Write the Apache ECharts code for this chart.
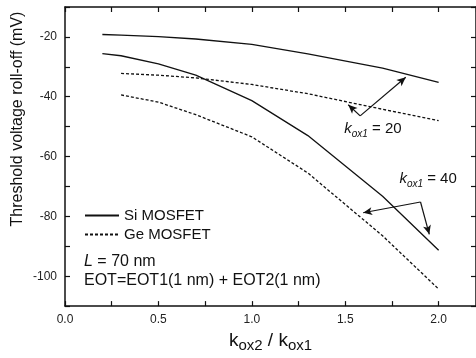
<!DOCTYPE html>
<html><head><meta charset="utf-8">
<script src="https://cdn.jsdelivr.net/npm/echarts@6/dist/echarts.min.js"></script>
<style>html,body{margin:0;padding:0;background:#fff}#c{width:476px;height:358px}</style>
</head><body><div id="c"></div>
<script>
// Data
var siK20X = [0.2, 0.3, 0.5, 0.7, 1.0, 1.3, 1.7, 2.0];
var siK20Y = [-19.2, -19.4, -19.9, -20.7, -22.5, -25.7, -30.4, -35.2];
var siK40X = [0.2, 0.3, 0.5, 0.7, 1.0, 1.3, 1.7, 2.0];
var siK40Y = [-25.6, -26.3, -29.0, -32.8, -41.3, -53.0, -73.3, -91.3];
var geK20X = [0.3, 0.5, 0.7, 1.0, 1.3, 1.7, 2.0];
var geK20Y = [-32.2, -32.8, -33.7, -35.9, -39.0, -44.2, -48.0];
var geK40X = [0.3, 0.5, 0.7, 1.0, 1.3, 1.7, 2.0];
var geK40Y = [-39.4, -41.8, -46.0, -53.4, -65.5, -86.5, -104.3];
var legendNames = ['Si MOSFET', 'Ge MOSFET'];
var xTickLabels = ['0.0', '0.5', '1.0', '1.5', '2.0'];
var yTickLabels = ['-20', '-40', '-60', '-80', '-100'];
// annotation arrows in data coordinates: [vertex, head]
var arrowK20 = [[[1.58, -46.4], [1.824, -33.5]], [[1.58, -46.4], [1.516, -42.7]]];
var arrowK40 = [[[1.903, -75.2], [1.596, -78.8]], [[1.903, -75.2], [1.95, -86.0]]];
var labelK20 = [1.495, -51.3];
var labelK40 = [1.79, -67.8];

function pairs(xs, ys) { return xs.map(function (x, i) { return [x, ys[i]]; }); }

var FONT = 'Liberation Sans, Arial, sans-serif';
var axisCommon = {
  axisLine: { show: true, onZero: false, lineStyle: { color: '#111', width: 1.5 } },
  axisTick: { show: true, inside: true, length: 5, lineStyle: { color: '#111', width: 1.2 } },
  splitLine: { show: false }
};
function xFmt(v) { var s = v.toFixed(1); return (Math.abs(v / 0.5 - Math.round(v / 0.5)) < 1e-6 && xTickLabels.indexOf(s) >= 0) ? s : ''; }
function yFmt(v) { var s = String(Math.round(v)); return yTickLabels.indexOf(s) >= 0 ? s : ''; }

var blackLine = { color: '#111', width: 1.3 };
var dashLine = { color: '#111', width: 1.3, type: [3, 2] };

var chart = echarts.init(document.getElementById('c'), null, { renderer: 'canvas' });
chart.setOption({
  animation: false,
  backgroundColor: '#fff',
  textStyle: { fontFamily: FONT },
  grid: { left: 65, top: 7, width: 413, height: 301 },
  legend: {
    data: legendNames, orient: 'vertical', left: 84, top: 208, padding: 0, itemWidth: 34, itemHeight: 14, itemGap: 4,
    itemStyle: { opacity: 0 },
    textStyle: { fontSize: 15, color: '#111', fontFamily: FONT }
  },
  xAxis: [
    Object.assign({}, axisCommon, {
      type: 'value', position: 'bottom', min: 0, max: 2.2, interval: 0.25,
      axisLabel: { formatter: xFmt, color: '#222', fontSize: 12, margin: 8, showMaxLabel: false, fontFamily: FONT },
      name: '{k|k}{s|ox2}{k| / k}{s|ox1}', nameLocation: 'middle', nameGap: 23,
      nameTextStyle: { rich: {
        k: { fontSize: 19, color: '#111', lineHeight: 22, verticalAlign: 'top', fontFamily: FONT },
        s: { fontSize: 15, color: '#111', lineHeight: 14, verticalAlign: 'bottom', fontFamily: FONT }
      } }
    }),
    Object.assign({}, axisCommon, {
      type: 'value', position: 'top', min: 0, max: 2.2, interval: 0.25, axisLabel: { show: false }
    })
  ],
  yAxis: [
    Object.assign({}, axisCommon, {
      type: 'value', position: 'left', min: -110, max: -10, interval: 10,
      axisLabel: { formatter: yFmt, color: '#222', fontSize: 12, margin: 8, fontFamily: FONT }
    }),
    Object.assign({}, axisCommon, {
      type: 'value', position: 'right', min: -110, max: -10, interval: 10, axisLabel: { show: false }
    })
  ],
  graphic: [
    { type: 'text', x: 18, y: 119, rotation: Math.PI / 2,
      style: { text: 'Threshold voltage roll-off (mV)', fill: '#111', fontSize: 16, fontFamily: FONT, align: 'center', verticalAlign: 'middle' } },
    { type: 'text', x: 84, y: 262,
      style: { text: '{i|L} = 70 nm', fill: '#111', verticalAlign: 'middle',
        rich: { i: { fontStyle: 'italic', fontSize: 16, fontFamily: FONT } }, fontSize: 16, fontFamily: FONT } },
    { type: 'text', x: 84, y: 281,
      style: { text: 'EOT=EOT1(1 nm) + EOT2(1 nm)', fill: '#111', verticalAlign: 'middle', fontSize: 16, fontFamily: FONT } }
  ],
  series: [
    { name: 'Si MOSFET', type: 'line', data: pairs(siK20X, siK20Y), symbol: 'none', lineStyle: blackLine, itemStyle: { color: '#111' } },
    { name: 'Si MOSFET', type: 'line', data: pairs(siK40X, siK40Y), symbol: 'none', lineStyle: blackLine, itemStyle: { color: '#111' } },
    { name: 'Ge MOSFET', type: 'line', data: pairs(geK20X, geK20Y), symbol: 'none', lineStyle: dashLine, itemStyle: { color: '#111' } },
    { name: 'Ge MOSFET', type: 'line', data: pairs(geK40X, geK40Y), symbol: 'none', lineStyle: dashLine, itemStyle: { color: '#111' } },
    { name: 'annot', type: 'line', data: [], symbol: 'none',
      markLine: {
        silent: true, symbol: ['none', 'arrow'], symbolSize: [6, 9],
        lineStyle: { color: '#111', width: 1.2, type: 'solid' }, label: { show: false },
        data: arrowK20.concat(arrowK40).map(function (a) { return [{ coord: a[0] }, { coord: a[1] }]; })
      },
      markPoint: {
        silent: true, symbol: 'circle', symbolSize: 0,
        label: { show: true, position: 'right', distance: 0, color: '#111',
          rich: {
            k: { fontSize: 15, fontStyle: 'italic', color: '#111', lineHeight: 18, verticalAlign: 'top', fontFamily: FONT },
            s: { fontSize: 10, fontStyle: 'italic', color: '#111', lineHeight: 10, verticalAlign: 'bottom', fontFamily: FONT },
            n: { fontSize: 15, color: '#111', lineHeight: 18, verticalAlign: 'top', fontFamily: FONT }
          } },
        data: [
          { coord: labelK20, label: { formatter: '{k|k}{s|ox1}{n| = 20}' } },
          { coord: labelK40, label: { formatter: '{k|k}{s|ox1}{n| = 40}' } }
        ]
      }
    }
  ]
});
</script></body></html>
